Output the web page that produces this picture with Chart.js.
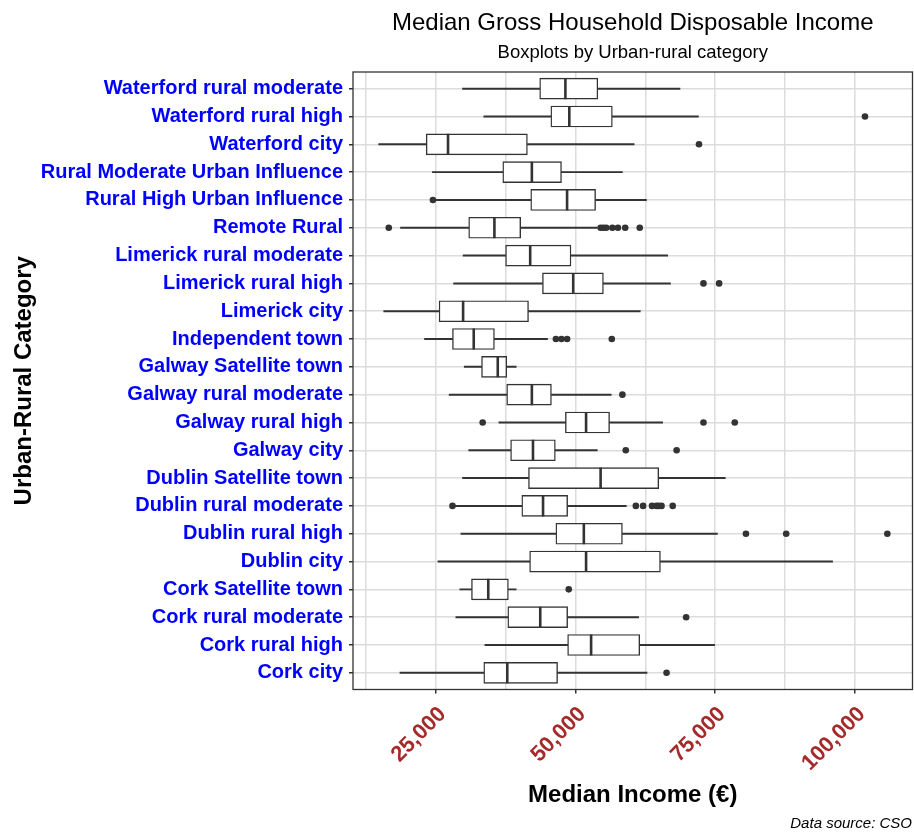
<!DOCTYPE html>
<html>
<head>
<meta charset="utf-8">
<title>Median Gross Household Disposable Income</title>
<script src="https://cdn.jsdelivr.net/npm/chart.js@4.4.1/dist/chart.umd.min.js"></script>
<style>
  body { margin: 0; background: #fff; }
  #wrap { width: 914px; height: 832px; position: relative; }
</style>
</head>
<body>
<div id="wrap"><canvas id="incomeChart"></canvas></div>
<script>
// Categories, top to bottom as in the plot
const categories = [
  "Waterford rural moderate", "Waterford rural high", "Waterford city",
  "Rural Moderate Urban Influence", "Rural High Urban Influence", "Remote Rural",
  "Limerick rural moderate", "Limerick rural high", "Limerick city",
  "Independent town", "Galway Satellite town", "Galway rural moderate",
  "Galway rural high", "Galway city", "Dublin Satellite town",
  "Dublin rural moderate", "Dublin rural high", "Dublin city",
  "Cork Satellite town", "Cork rural moderate", "Cork rural high", "Cork city"
];

// Box statistics (EUR)
const whiskerLow = [29800, 33600, 14800, 24400, 24700, 18700, 29900, 28200, 15700, 23000, 30100,
  27400, 36300, 30900, 29800, 28300, 29500, 25400, 29300, 28600, 33800, 18600];
const q1 = [43600, 45600, 23300, 37000, 42000, 30900, 37500, 44100, 25600, 28000, 33200,
  37700, 48200, 38400, 41600, 40400, 46500, 41800, 31400, 37900, 48600, 33600];
const medians = [48200, 48900, 27200, 42200, 48500, 35500, 41900, 49600, 29900, 31800, 36100,
  42200, 51900, 42400, 54500, 44200, 51500, 51900, 34400, 43700, 52800, 37800];
const q3 = [54000, 56600, 41400, 47500, 53600, 40200, 49200, 55000, 41600, 35500, 37700,
  45700, 56100, 46400, 64900, 48600, 58400, 65200, 38000, 48600, 61500, 46800];
const whiskerHigh = [68700, 72000, 60500, 58400, 62700, 53900, 66500, 67000, 61600, 45000, 39400,
  56400, 65600, 53900, 76800, 59100, 75400, 96000, 39400, 61300, 74900, 62800];
const outliers = [
  [], [101800], [72100], [], [24500],
  [16600, 54500, 55000, 55500, 56600, 57600, 58900, 61500],
  [], [72900, 75700], [], [46500, 47500, 48500, 56500], [],
  [58400], [33400, 72900, 78500], [59000, 68100], [],
  [28000, 60800, 62100, 63700, 64500, 64900, 65400, 67400],
  [80500, 87700, 105800], [], [48800], [69800], [], [66300]
];

// Axis settings
const xMin = 10200;
const xMax = 110300;
const gridStep = 12500;
const labelStep = 25000;

const FONT = "'Liberation Sans', Arial, sans-serif";
const LINE = "#333333";

const gridValues = [];
for (let v = gridStep; v <= xMax; v += gridStep) gridValues.push(v);

// Panel border and titles
const decorations = {
  id: "decorations",
  afterDatasetsDraw(chart) {
    const { ctx, chartArea: a } = chart;
    ctx.save();
    ctx.strokeStyle = LINE;
    ctx.lineWidth = 1.3;
    ctx.strokeRect(a.left, a.top, a.right - a.left, a.bottom - a.top);
    ctx.restore();
  },
  afterDraw(chart) {
    const { ctx, chartArea: a } = chart;
    const cx = (a.left + a.right) / 2;
    ctx.save();
    ctx.fillStyle = "#000";
    ctx.textAlign = "center";
    ctx.textBaseline = "alphabetic";
    ctx.font = "24px " + FONT;
    ctx.fillText("Median Gross Household Disposable Income", cx, 30);
    ctx.font = "18.5px " + FONT;
    ctx.fillText("Boxplots by Urban-rural category", cx, 58);
    ctx.textAlign = "right";
    ctx.font = "italic 15px " + FONT;
    ctx.fillText("Data source: CSO", 912, 828);
    ctx.restore();
  }
};

const boxData = categories.map((c, i) => ({ x: [q1[i], q3[i]], y: i }));
const lowData = categories.map((c, i) => ({ x: [whiskerLow[i], q1[i]], y: i }));
const highData = categories.map((c, i) => ({ x: [q3[i], whiskerHigh[i]], y: i }));
const medianData = categories.map((c, i) => ({ x: medians[i], y: i }));
const outlierData = categories.flatMap((c, i) => outliers[i].map((v) => ({ x: v, y: i })));

const whiskerStyle = {
  type: "bar",
  backgroundColor: LINE,
  borderWidth: 0,
  barThickness: 1.3,
  grouped: false,
  order: 3
};

const ctx = document.getElementById("incomeChart").getContext("2d");
new Chart(ctx, {
  type: "bar",
  data: {
    datasets: [
      Object.assign({ label: "low whisker", data: lowData }, whiskerStyle),
      Object.assign({ label: "high whisker", data: highData }, whiskerStyle),
      {
        type: "bar",
        label: "box",
        data: boxData,
        backgroundColor: "#ffffff",
        borderColor: LINE,
        borderWidth: 1.4,
        borderSkipped: false,
        barThickness: 21,
        grouped: false,
        order: 2
      },
      {
        type: "scatter",
        label: "median",
        data: medianData,
        pointStyle: "line",
        pointRotation: 90,
        pointRadius: 10.5,
        pointBorderWidth: 2.6,
        pointBorderColor: LINE,
        order: 1
      },
      {
        type: "scatter",
        label: "outliers",
        data: outlierData,
        pointStyle: "circle",
        pointRadius: 3.3,
        pointBackgroundColor: LINE,
        pointBorderWidth: 0,
        order: 0
      }
    ]
  },
  options: {
    indexAxis: "y",
    responsive: true,
    maintainAspectRatio: false,
    animation: false,
    events: [],
    layout: { autoPadding: false, padding: { top: 72, right: 1.5, left: 0, bottom: 0 } },
    plugins: {
      legend: { display: false },
      tooltip: { enabled: false }
    },
    scales: {
      x: {
        type: "linear",
        min: xMin,
        max: xMax,
        afterBuildTicks: (scale) => {
          scale.ticks = gridValues.map((v) => ({ value: v }));
        },
        afterFit: (scale) => {
          scale.height = 142.5;
          scale.paddingLeft = 0;
          scale.paddingRight = 0;
        },
        border: { display: false },
        grid: {
          color: "#dcdcdc",
          lineWidth: 1.5,
          tickLength: 4,
          tickColor: (c) => (c.tick && c.tick.value % labelStep === 0 ? LINE : "rgba(0,0,0,0)")
        },
        ticks: {
          autoSkip: false,
          minRotation: 45,
          maxRotation: 45,
          padding: 8,
          labelOffset: 7,
          color: "#A52A2A",
          font: { family: FONT, size: 22, weight: "bold" },
          callback: (v) => (v % labelStep === 0 ? v.toLocaleString("en-US") : "")
        },
        title: {
          display: true,
          text: "Median Income (€)",
          color: "#000",
          font: { family: FONT, size: 24, weight: "bold" },
          padding: { top: 0, bottom: 22 }
        }
      },
      y: {
        type: "linear",
        min: -0.6,
        max: categories.length - 0.4,
        reverse: true,
        offset: false,
        afterBuildTicks: (scale) => {
          scale.ticks = categories.map((c, i) => ({ value: i }));
        },
        afterFit: (scale) => {
          scale.width = 353;
          scale.paddingTop = 0;
          scale.paddingBottom = 0;
        },
        border: { display: false },
        grid: {
          offset: false,
          color: "#dcdcdc",
          lineWidth: 1.5,
          tickLength: 4,
          tickColor: LINE
        },
        ticks: {
          autoSkip: false,
          padding: 6,
          color: "#0000FF",
          font: { family: FONT, size: 20, weight: "bold" },
          callback: (v) => categories[v]
        },
        title: {
          display: true,
          text: "Urban-Rural Category",
          color: "#000",
          font: { family: FONT, size: 24, weight: "bold" },
          padding: { top: 10, bottom: 0 }
        }
      }
    }
  },
  plugins: [decorations]
});
</script>
</body>
</html>
